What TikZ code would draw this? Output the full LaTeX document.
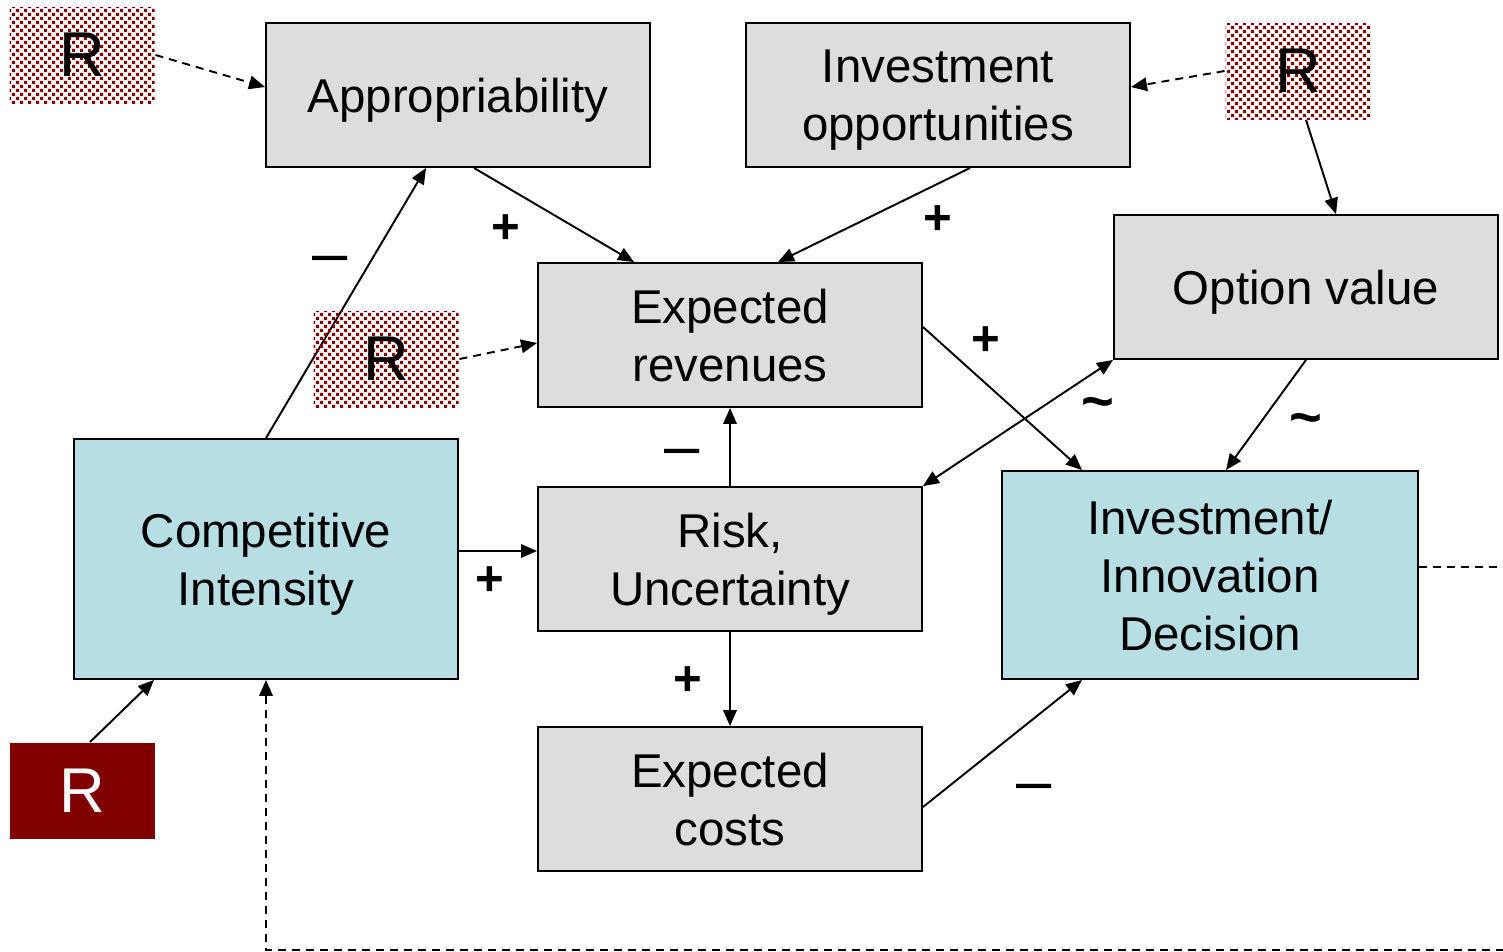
\documentclass[tikz,border=0pt]{standalone}
\usepackage{fontspec}
\setmainfont{Liberation Sans}
\usetikzlibrary{positioning,arrows.meta,patterns.meta,backgrounds}

\definecolor{boxgray}{RGB}{221,221,221}
\definecolor{boxcyan}{RGB}{183,222,226}
\definecolor{darkred}{RGB}{128,0,0}

% dotted fill for the R boxes
\tikzdeclarepattern{
	name=reddots, type=uncolored,
	bounding box={(0,0) and (4.8pt,4.8pt)},
	tile size={(4.8pt,4.8pt)},
	code={
		\path[fill] (0,0) rectangle (1.9pt,1.9pt);
		\path[fill] (2.4pt,2.4pt) rectangle (4.3pt,4.3pt);
	}
}

\tikzset{
	factor/.style={draw, fill=boxgray, minimum width=7.68cm, minimum height=2.88cm,
		align=center, inner sep=0pt, text depth=0pt, font=\fontsize{27}{33}\selectfont},
	choice/.style={factor, fill=boxcyan},
	rdotted/.style={pattern=reddots, pattern color=darkred, minimum width=2.9cm,
		minimum height=1.92cm, inner sep=0pt, font=\fontsize{36}{40}\selectfont},
	rsolid/.style={rdotted, pattern=none, fill=darkred, text=white},
	possign/.style={inner sep=0pt, yshift=-0.07cm, font=\bfseries\fontsize{28}{30}\selectfont},
	ambsign/.style={inner sep=0pt, yshift=-0.14cm, font=\bfseries\fontsize{32}{34}\selectfont},
	negsign/.style={inner sep=0pt, yshift=-0.16cm, font=\fontsize{36}{38}\selectfont},
	feedback/.style={dash pattern=on 0.16cm off 0.12cm},
}

\begin{document}
\begin{tikzpicture}[node distance=4.8cm, line width=1.1pt,
		>={Triangle[length=0.32cm,width=0.27cm]}]
	\useasboundingbox (0,0) rectangle (30.06,-19.02);
	\clip (0,0) rectangle (30.06,-19.02);

	% Factors (position, etc.)
	\node (approp)		[factor] at (9.16,-1.9)	{Appropriability};
	\node (invest)		[factor, node distance=9.6cm, right of=approp]
										{Investment\\opportunities};
	\node (revenues)	[factor, below of=approp, xshift=5.44cm]
										{Expected\\revenues};
	\node (risk)			[factor, node distance=4.48cm, below of=revenues]
										{Risk,\\Uncertainty};
	\node (costs)			[factor, below of=risk]		{Expected\\costs};
	\node (compet)		[choice, node distance=9.28cm, left of=risk, minimum height=4.8cm]
										{Competitive\\Intensity};
	\node (decision)	[choice, node distance=9.6cm, right of=risk, yshift=-0.32cm,
										minimum width=8.32cm, minimum height=4.16cm]
										{Investment/\\Innovation\\Decision};
	\node (option)		[factor, node distance=11.52cm, right of=revenues, yshift=0.96cm]
										{Option value};

	% R boxes
	\node (rA)	[rdotted, node distance=7.52cm, left of=approp, yshift=0.8cm]		{R};
	\node (rB)	[rdotted, node distance=7.2cm, right of=invest, yshift=0.48cm]	{R};
	\node (rC)	[rdotted, node distance=6.88cm, left of=revenues, yshift=-0.48cm]	{R};
	\node (rD)	[rsolid, node distance=4.64cm, below of=compet, xshift=-3.68cm]	{R};

	% Signs on the links
	\node (sgnAR)	[possign] at (10.12,-4.52)	{+};
	\node (sgnIR)	[possign] at (18.76,-4.34)	{+};
	\node (sgnCA)	[negsign] at (6.6,-5.14)		{–};
	\node (sgnRD)	[possign] at (19.72,-6.76)	{+};
	\node (sgnOR)	[ambsign] at (21.96,-8.04)	{\char`\~};
	\node (sgnOD)	[ambsign] at (26.12,-8.36)	{\char`\~};
	\node (sgnUR)	[negsign] at (13.64,-9.0)		{–};
	\node (sgnCU)	[possign] at (9.8,-11.56)		{+};
	\node (sgnUC)	[possign] at (13.76,-13.56)	{+};
	\node (sgnKD)	[negsign] at (20.68,-15.7)	{–};

	\coordinate (loopcorner) at (31,-19.0);

	% Links between the nodes above
	\begin{scope}[on background layer]
		\draw[->, line width=1.1pt]	(compet.north) -- ([xshift=-0.64cm]approp.south);
	\end{scope}
	\draw[feedback, ->]	(rA.east) -- ([yshift=0.16cm]approp.west);
	\draw[feedback, ->]	(rB.west) -- ([yshift=0.16cm]invest.east);
	\draw[->]						([xshift=0.16cm]rB.south) -- ([xshift=0.6cm]option.north);
	\draw[->]						([xshift=0.32cm]approp.south) -- ([xshift=-1.92cm]revenues.north);
	\draw[->]						([xshift=0.64cm]invest.south) -- ([xshift=0.96cm]revenues.north);
	\draw[feedback, ->]	(rC.east) -- ([yshift=-0.16cm]revenues.west);
	\draw[->]						([yshift=0.16cm]compet.east) -- ([yshift=0.16cm]risk.west);
	\draw[->]						(risk) -- (revenues);
	\draw[->]						(risk) -- (costs);
	\draw[->]						([yshift=0.16cm]revenues.east) -- ([xshift=-2.56cm]decision.north);
	\draw[<->]					(option.south west) -- (risk.north east);
	\draw[->]						(option.south) -- ([xshift=0.32cm]decision.north);
	\draw[->]						([yshift=-0.16cm]costs.east) -- ([xshift=-2.56cm]decision.south);
	\draw[->]						([xshift=0.16cm]rD.north) -- ([xshift=-2.24cm]compet.south);
	\draw[feedback, ->]	([yshift=0.16cm]decision.east) -| (loopcorner) -| (compet.south);
\end{tikzpicture}
\end{document}
